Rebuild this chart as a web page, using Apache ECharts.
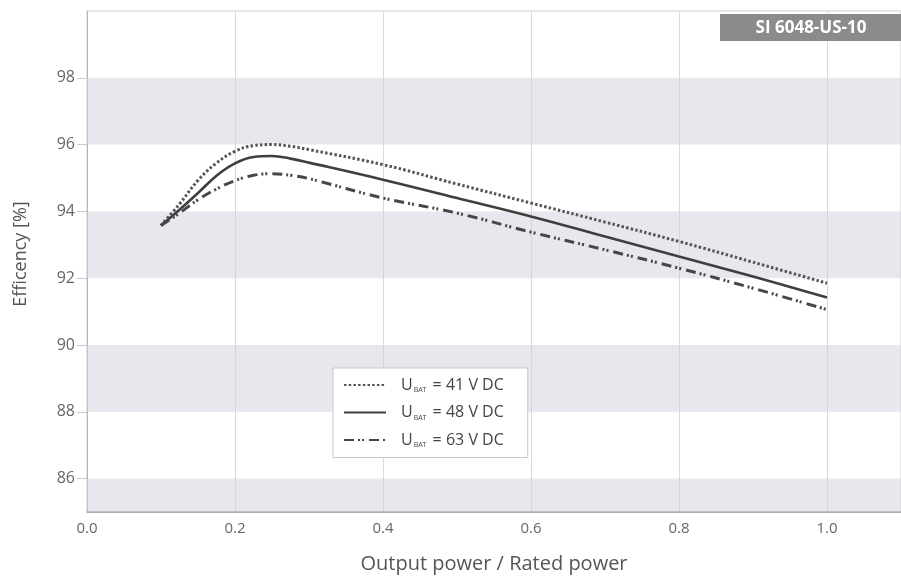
<!DOCTYPE html>
<html>
<head>
<meta charset="utf-8">
<script src="https://cdn.jsdelivr.net/npm/echarts@6/dist/echarts.min.js"></script>
<style>
html,body{margin:0;padding:0;background:#fff;}
#chart{width:901px;height:579px;}
</style>
</head>
<body>
<div id="chart"></div>
<script>
// Data
const xValues = [0.1, 0.125, 0.15, 0.175, 0.2, 0.225, 0.25, 0.275, 0.3, 0.4, 0.5, 0.6, 0.7, 0.8, 0.9, 1.0];
const eff41 = [93.58, 94.22, 94.93, 95.45, 95.80, 95.97, 96.00, 95.95, 95.85, 95.40, 94.82, 94.25, 93.68, 93.10, 92.48, 91.85];
const eff48 = [93.58, 94.05, 94.55, 95.07, 95.44, 95.63, 95.66, 95.58, 95.46, 94.95, 94.40, 93.85, 93.25, 92.65, 92.05, 91.42];
const eff63 = [93.58, 93.95, 94.35, 94.67, 94.92, 95.08, 95.13, 95.08, 94.98, 94.40, 93.95, 93.38, 92.85, 92.30, 91.70, 91.06];
const seriesNames = ['41', '48', '63'];
const yTicks = [86, 88, 90, 92, 94, 96, 98];
const bands = [[96, 98], [92, 94], [88, 90], [85, 86]];
const badgeText = 'SI 6048-US-10';
const xAxisTitle = 'Output power / Rated power';
const yAxisTitle = 'Efficency [%]';

const pair = arr => xValues.map((x, i) => [x, arr[i]]);
const font = '"Open Sans", Lato, sans-serif';
const lineColor = '#3f3f3f';

const chart = echarts.init(document.getElementById('chart'));
chart.setOption({
  backgroundColor: '#fff',
  animation: false,
  grid: {left: 87, right: -1, top: 11, bottom: 66, show: true, borderColor: '#cfcfcf', borderWidth: 1, backgroundColor: 'transparent'},
  xAxis: {
    type: 'value', min: 0, max: 1.1, interval: 0.2,
    name: xAxisTitle, nameLocation: 'middle', nameGap: 42,
    nameTextStyle: {color: '#555', fontSize: 20, fontFamily: font},
    axisLine: {show: true, lineStyle: {color: '#9a9a9a', width: 1.5}},
    axisTick: {show: false},
    axisLabel: {color: '#666', fontSize: 15, fontFamily: font, margin: 9, showMaxLabel: false,
      formatter: v => v.toFixed(1)},
    splitLine: {show: true, lineStyle: {color: '#d9d9d9', width: 1}}
  },
  yAxis: {
    type: 'value', min: 85, max: 100,
    axisLine: {show: true, lineStyle: {color: '#b5b5b5', width: 1}},
    axisTick: {show: true, length: 10, customValues: yTicks, lineStyle: {color: '#c8c8c8'}},
    axisLabel: {color: '#666', fontSize: 16, fontFamily: font, margin: 12, customValues: yTicks},
    splitLine: {show: false}
  },
  legend: {
    orient: 'vertical', left: 333, top: 368,
    backgroundColor: '#fff', borderColor: '#c8c8c8', borderWidth: 1,
    padding: [9, 24, 9, 10], itemGap: 11, itemWidth: 42, itemHeight: 16,
    itemStyle: {opacity: 0},
    data: seriesNames,
    formatter: n => 'U{s|BAT} = ' + n + ' V DC',
    textStyle: {color: '#444', fontSize: 16, fontFamily: font, padding: [0, 0, 0, 10],
      rich: {s: {fontSize: 7, fontFamily: font, color: '#444', padding: [10, 2, 0, 1]}}}
  },
  series: [
    {
      name: seriesNames[0], type: 'line', data: pair(eff41), smooth: 0.4, symbol: 'none',
      lineStyle: {color: '#555', width: 3, type: [2.5, 2.2], cap: 'butt'}, itemStyle: {color: '#555'},
      markArea: {silent: true, itemStyle: {color: 'rgba(205,210,222,0.5)'},
        data: bands.map(b => [{yAxis: b[0]}, {yAxis: b[1]}])},
      z: 3
    },
    {
      name: seriesNames[1], type: 'line', data: pair(eff48), smooth: 0.4, symbol: 'none',
      lineStyle: {color: lineColor, width: 2.6, type: 'solid'}, itemStyle: {color: lineColor},
      z: 3
    },
    {
      name: seriesNames[2], type: 'line', data: pair(eff63), smooth: 0.4, symbol: 'none',
      lineStyle: {color: '#474747', width: 3, type: [10, 4, 2, 2, 2, 5], cap: 'butt'}, itemStyle: {color: '#474747'},
      z: 3
    }
  ],
  graphic: [
    {type: 'rect', right: 0, top: 14, shape: {width: 181, height: 27}, style: {fill: '#8b8b8b'}, z: 10},
    {type: 'text', x: 811, y: 28, z: 11,
      style: {text: badgeText, fill: '#fff', font: 'bold 17px ' + font, align: 'center', verticalAlign: 'middle'}},
    {type: 'text', x: 21, y: 254, rotation: Math.PI / 2, z: 11,
      style: {text: yAxisTitle, fill: '#555', font: '18px ' + font, align: 'center', verticalAlign: 'middle'}}
  ]
});
</script>
</body>
</html>
